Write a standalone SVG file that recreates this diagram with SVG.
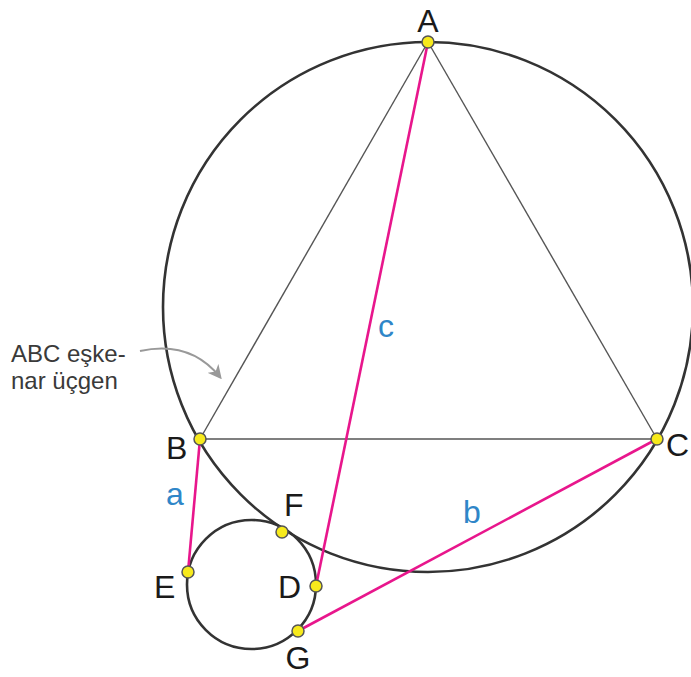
<svg xmlns="http://www.w3.org/2000/svg" width="691" height="677" viewBox="0 0 691 677">
<defs>
<style>
.circ{fill:none;stroke:#333;stroke-width:2.6}
.tri{stroke:#555;stroke-width:1.4;fill:none}
.mag{stroke:#e8168c;stroke-width:2.6;fill:none}
.pt{fill:#f7ea1c;stroke:#555;stroke-width:1.5}
.lbl{font-family:"Liberation Sans",Arial,sans-serif;font-size:32px;fill:#1a1a1a}
.blue{font-family:"Liberation Sans",Arial,sans-serif;font-size:32px;fill:#2f86c8}
.note{font-family:"Liberation Sans",Arial,sans-serif;font-size:24px;fill:#3a3a3a}
</style>
<marker id="ah" viewBox="0 0 10 10" refX="8" refY="5" markerWidth="7" markerHeight="7" orient="auto-start-reverse">
<path d="M0,0 L10,5 L0,10 L3,5 Z" fill="#999"/>
</marker>
</defs>
<rect width="691" height="677" fill="#fff"/>
<g id="circles">
<circle id="big-circle" class="circ" cx="428" cy="307" r="265"/>
<circle id="small-circle" class="circ" cx="251.5" cy="584.5" r="64.5"/>
</g>
<g id="connectors">
<line class="tri" x1="428" y1="42" x2="200" y2="439"/>
<line class="tri" x1="428" y1="42" x2="657" y2="439"/>
<line class="tri" x1="200" y1="439" x2="657" y2="439"/>
<line class="mag" x1="200" y1="439" x2="188" y2="572"/>
<line class="mag" x1="428" y1="42" x2="316" y2="586"/>
<line class="mag" x1="657" y1="439" x2="298" y2="631"/>
<path d="M140,351 Q190,340 220,377" fill="none" stroke="#999" stroke-width="2" marker-end="url(#ah)"/>
</g>
<g id="A"><circle class="pt" cx="428" cy="42" r="6"/><text class="lbl" x="428" y="32" text-anchor="middle">A</text></g>
<g id="B"><circle class="pt" cx="200" cy="439" r="6"/><text class="lbl" x="166" y="459">B</text></g>
<g id="C"><circle class="pt" cx="657" cy="439" r="6"/><text class="lbl" x="666" y="456">C</text></g>
<g id="F"><circle class="pt" cx="282" cy="532" r="6"/><text class="lbl" x="284" y="516">F</text></g>
<g id="E"><circle class="pt" cx="188" cy="572" r="6"/><text class="lbl" x="154" y="598">E</text></g>
<g id="D"><circle class="pt" cx="316" cy="586" r="6"/><text class="lbl" x="278" y="598">D</text></g>
<g id="G"><circle class="pt" cx="298" cy="631" r="6"/><text class="lbl" x="298" y="669" text-anchor="middle">G</text></g>
<g id="labels">
<text class="blue" x="166" y="505">a</text>
<text class="blue" x="378" y="337">c</text>
<text class="blue" x="463" y="523">b</text>
</g>
<g id="note">
<text class="note" x="11" y="362">ABC eşke-</text>
<text class="note" x="11" y="389">nar üçgen</text>
</g>
</svg>
